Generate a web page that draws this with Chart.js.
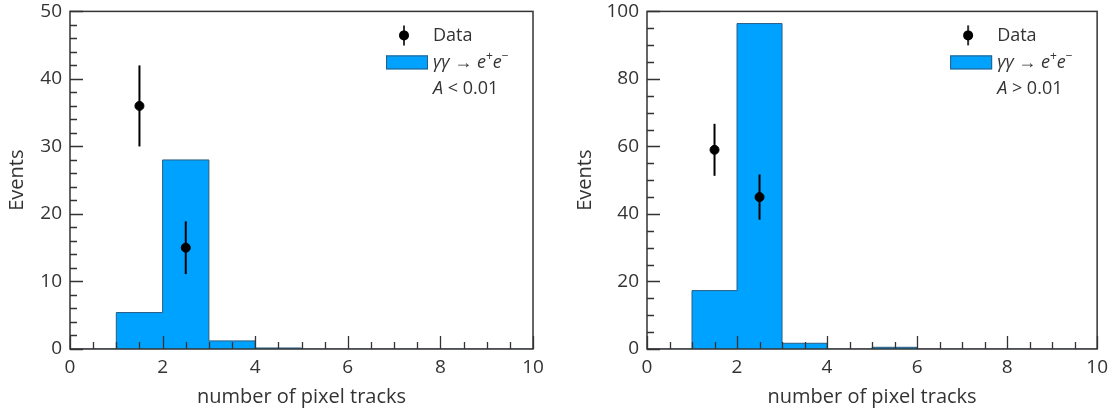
<!DOCTYPE html>
<html lang="en">
<head>
<meta charset="UTF-8">
<title>Pixel tracks</title>
<script src="https://cdn.jsdelivr.net/npm/chart.js"></script>
<style>
  body { margin: 0; background: #fff; overflow: hidden; }
  .panel { position: absolute; top: -8px; height: 420px; }
</style>
</head>
<body>
<div class="panel" style="left:0; width:557px;"><canvas id="lowA"></canvas></div>
<div class="panel" style="left:557px; width:558px;"><canvas id="highA"></canvas></div>
<script>
// histogram bins (number of pixel tracks)
const binEdges = [0, 1, 2, 3, 4, 5, 6, 7, 8, 9, 10];
// gamma gamma -> e+e- expectation per bin
const mcLow  = [0, 5.4, 28, 1.2, 0.15, 0, 0, 0, 0, 0];
const mcHigh = [0, 17.3, 96.4, 1.7, 0, 0.5, 0, 0, 0, 0];
// measured points with errors
const dataX    = [1.5, 2.5];
const dataLow  = [36, 15];
const errLow   = [6, 3.9];
const dataHigh = [59, 45];
const errHigh  = [7.7, 6.7];

const FONT = "'Open Sans', 'Noto Sans', sans-serif";
const FILL = '#00a2ff';

function stepPoints(counts) {
  const pts = counts.map((c, i) => ({ x: binEdges[i], y: c }));
  pts.push({ x: binEdges[binEdges.length - 1], y: counts[counts.length - 1] });
  return pts;
}

// draws frame, inward ticks, error bars and the legend
const decorations = {
  id: 'decorations',
  afterDatasetsDraw(chart, args, opts) {
    const { ctx, chartArea: a, scales: { x, y } } = chart;
    ctx.save();
    // error bars
    ctx.strokeStyle = '#000';
    ctx.lineWidth = 2;
    opts.values.forEach((v, i) => {
      const px = x.getPixelForValue(dataX[i]);
      ctx.beginPath();
      ctx.moveTo(px, y.getPixelForValue(v - opts.errors[i]));
      ctx.lineTo(px, y.getPixelForValue(v + opts.errors[i]));
      ctx.stroke();
    });
    // frame
    ctx.strokeStyle = '#333';
    ctx.lineWidth = 1.5;
    ctx.strokeRect(a.left, a.top, a.right - a.left, a.bottom - a.top);
    // inward ticks
    ctx.lineWidth = 1.3;
    ctx.beginPath();
    for (let v = x.min; v <= x.max + 1e-9; v += 0.5) {
      const px = Math.round(x.getPixelForValue(v)) + 0.5;
      const len = Math.abs(v % 2) < 1e-9 ? 13 : 7;
      ctx.moveTo(px, a.bottom);
      ctx.lineTo(px, a.bottom - len);
    }
    for (let v = y.min; v <= y.max + 1e-9; v += opts.yMinor) {
      const py = Math.round(y.getPixelForValue(v)) + 0.5;
      const len = Math.abs(v % opts.yMajor) < 1e-9 ? 13 : 7;
      ctx.moveTo(a.left, py);
      ctx.lineTo(a.left + len, py);
    }
    ctx.stroke();

    // legend
    const lx = a.right - 129;
    const tx = a.right - 100;
    ctx.fillStyle = '#000';
    ctx.lineWidth = 2;
    ctx.beginPath();
    ctx.moveTo(lx, a.top + 14);
    ctx.lineTo(lx, a.top + 34);
    ctx.stroke();
    ctx.beginPath();
    ctx.arc(lx, a.top + 24, 5, 0, Math.PI * 2);
    ctx.fill();

    ctx.fillStyle = FILL;
    ctx.fillRect(a.right - 147, a.top + 44, 42, 14);
    ctx.strokeStyle = '#2b5d80';
    ctx.lineWidth = 1;
    ctx.strokeRect(a.right - 147 + 0.5, a.top + 44.5, 41, 13);

    ctx.fillStyle = '#333';
    ctx.textBaseline = 'middle';
    ctx.textAlign = 'left';
    ctx.font = `18px ${FONT}`;
    ctx.fillText('Data', tx, a.top + 24);
    drawRich(ctx, tx, a.top + 51, [
      { t: 'γγ', it: true }, { t: ' → ' }, { t: 'e', it: true }, { t: '+', sup: true },
      { t: 'e', it: true }, { t: '−', sup: true }
    ]);
    drawRich(ctx, tx, a.top + 77, [{ t: 'A', it: true }, { t: opts.cut }]);
    ctx.restore();
  }
};

function drawRich(ctx, x0, yMid, parts) {
  let cx = x0;
  parts.forEach(p => {
    const size = p.sup ? 12 : 18;
    ctx.font = `${p.it ? 'italic ' : ''}${size}px ${FONT}`;
    ctx.fillText(p.t, cx, p.sup ? yMid - 6 : yMid);
    cx += ctx.measureText(p.t).width;
  });
}

function makePanel(id, counts, values, errors, yMax, yMajor, yMinor, cut, leftWidth, rightPad, titlePad) {
  new Chart(document.getElementById(id), {
    data: {
      datasets: [
        {
          type: 'scatter',
          data: dataX.map((xv, i) => ({ x: xv, y: values[i] })),
          backgroundColor: '#000',
          borderColor: '#000',
          pointRadius: 4.5,
          order: 0
        },
        {
          type: 'line',
          data: stepPoints(counts),
          stepped: 'before',
          fill: 'origin',
          backgroundColor: FILL,
          borderColor: '#2b5d80',
          borderWidth: 1,
          pointRadius: 0,
          order: 1
        }
      ]
    },
    options: {
      responsive: true,
      maintainAspectRatio: false,
      animation: false,
      layout: { padding: { top: 4, right: rightPad, left: 0, bottom: 0 } },
      plugins: {
        legend: { display: false },
        tooltip: { enabled: false },
        decorations: { values, errors, yMajor, yMinor, cut }
      },
      scales: {
        x: {
          type: 'linear', min: 0, max: 10,
          grid: { display: false, drawTicks: false },
          border: { display: false },
          ticks: { stepSize: 2, padding: 7, color: '#333', font: { family: FONT, size: 19 } },
          title: { display: true, text: 'number of pixel tracks', color: '#333',
                   font: { family: FONT, size: 20 }, padding: { top: 0, bottom: 3 } },
          afterFit(s) { s.height = 63; }
        },
        y: {
          type: 'linear', min: 0, max: yMax,
          grid: { display: false, drawTicks: false },
          border: { display: false },
          ticks: { stepSize: yMajor, padding: 8, color: '#333', font: { family: FONT, size: 19 } },
          title: { display: true, text: 'Events', color: '#333',
                   font: { family: FONT, size: 20 }, padding: { top: titlePad, bottom: 4 } },
          afterFit(s) { s.width = leftWidth; }
        }
      }
    },
    plugins: [decorations]
  });
}

makePanel('lowA', mcLow, dataLow, errLow, 50, 10, 2, ' < 0.01', 70, 24, 5);
makePanel('highA', mcHigh, dataHigh, errHigh, 100, 20, 5, ' > 0.01', 90, 10, 16);
</script>
</body>
</html>
